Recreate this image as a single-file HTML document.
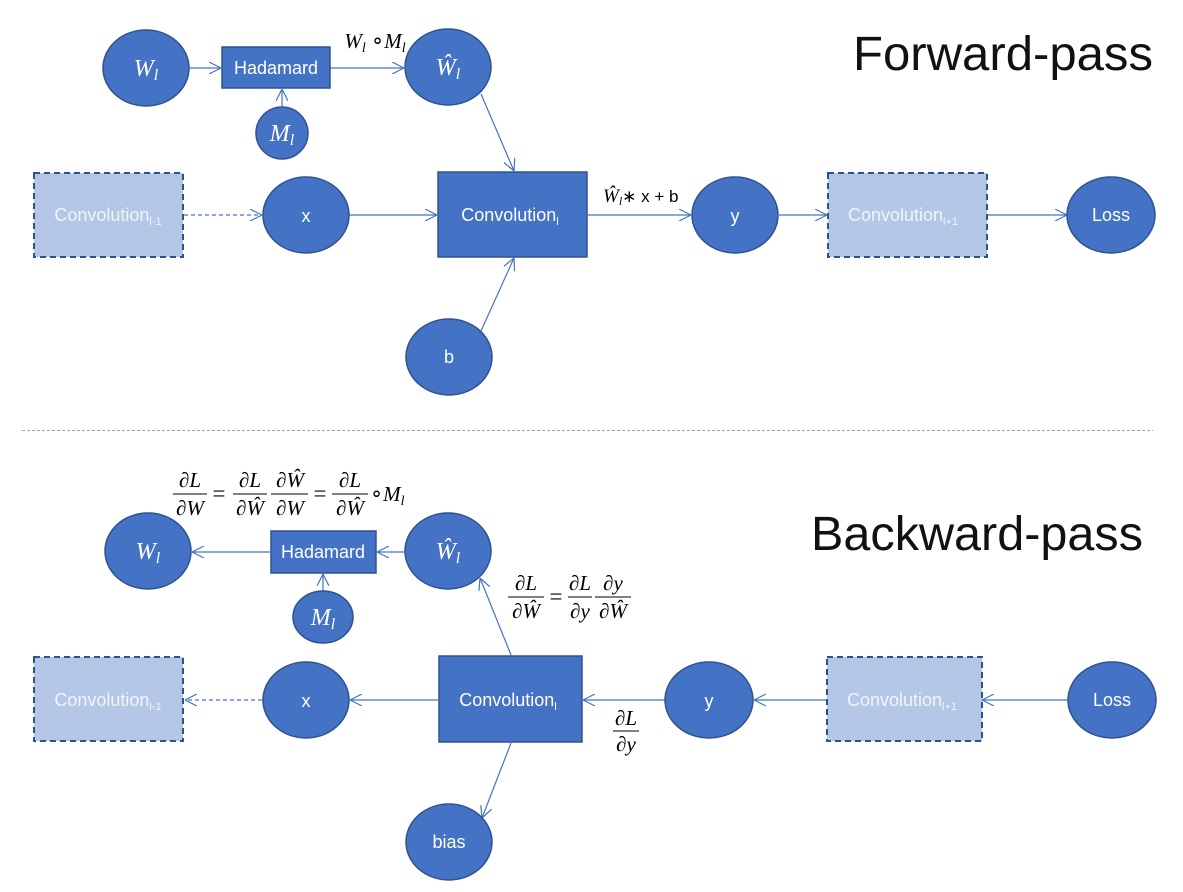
<!DOCTYPE html>
<html><head><meta charset="utf-8"><style>
html,body{margin:0;padding:0;background:#fff;}
svg{display:block;}
.n{fill:#4472c4;stroke:#2f528f;stroke-width:1.5;}
.d{fill:#b4c7e7;stroke:#2f528f;stroke-width:2;stroke-dasharray:6 4;}
.l{stroke:#4472c4;stroke-width:1.2;fill:none;marker-end:url(#a);}
.ld{stroke:#4472c4;stroke-width:1.2;fill:none;stroke-dasharray:4 3;marker-end:url(#a);}
.t{fill:#fff;font-family:"Liberation Sans",sans-serif;font-size:18px;text-anchor:middle;}
.tl{fill:#f0f4fb;font-family:"Liberation Sans",sans-serif;font-size:18px;text-anchor:middle;}
.m{fill:#fff;font-family:"Liberation Serif",serif;font-style:italic;font-size:24px;text-anchor:middle;}
.k{fill:#000;font-family:"Liberation Serif",serif;font-style:italic;font-size:21px;text-anchor:middle;}
.ke{fill:#000;font-family:"Liberation Serif",serif;font-size:23px;text-anchor:middle;}
.big{fill:#111;font-family:"Liberation Sans",sans-serif;font-size:48px;}
</style></head><body>
<svg width="1183" height="892" viewBox="0 0 1183 892" xmlns="http://www.w3.org/2000/svg">
<defs><marker id="a" viewBox="0 0 12 12" refX="12" refY="6" markerWidth="12" markerHeight="12" markerUnits="userSpaceOnUse" orient="auto"><path d="M0,0 L12,6 L0,12" fill="none" stroke="#4472c4" stroke-width="1.2"/></marker></defs>

<!-- Forward -->
<text class="big" x="853" y="70" textLength="300" lengthAdjust="spacingAndGlyphs">Forward-pass</text>
<line class="l" x1="190" y1="68" x2="221" y2="68"/>
<line class="l" x1="330" y1="68" x2="404" y2="68"/>
<line class="l" x1="282" y1="107" x2="282" y2="89"/>
<line class="l" x1="481" y1="94" x2="514" y2="171"/>
<line class="ld" x1="184" y1="215" x2="262" y2="215"/>
<line class="l" x1="349" y1="215" x2="437" y2="215"/>
<line class="l" x1="588" y1="215" x2="691" y2="215"/>
<line class="l" x1="779" y1="215" x2="827" y2="215"/>
<line class="l" x1="988" y1="215" x2="1067" y2="215"/>
<line class="l" x1="481" y1="331" x2="514" y2="258"/>

<ellipse class="n" cx="146" cy="68" rx="43" ry="38"/><text class="m" x="146" y="76">W<tspan font-size="16" dy="4">l</tspan></text>
<rect class="n" x="222" y="47" width="108" height="41"/><text class="t" x="276" y="74" font-size="16">Hadamard</text>
<ellipse class="n" cx="282" cy="133" rx="26" ry="26"/><text class="m" x="282" y="141">M<tspan font-size="16" dy="4">l</tspan></text>
<ellipse class="n" cx="448" cy="67" rx="43" ry="38"/><text class="m" x="448" y="75">Ŵ<tspan font-size="16" dy="4">l</tspan></text>
<text class="k" x="375" y="48">W<tspan font-size="14" dy="4">l</tspan><tspan dy="-4" font-style="normal"> ∘</tspan>M<tspan font-size="14" dy="4">l</tspan></text>

<rect class="d" x="34" y="173" width="149" height="84"/><text class="tl" x="108" y="221">Convolution<tspan font-size="11" dy="4">l-1</tspan></text>
<ellipse class="n" cx="306" cy="215" rx="43" ry="38"/><text class="t" x="306" y="222">x</text>
<rect class="n" x="438" y="172" width="149" height="85"/><text class="t" x="510" y="221">Convolution<tspan font-size="11" dy="4">l</tspan></text>
<text x="603" y="202" font-family="Liberation Serif,serif" font-style="italic" font-size="19">Ŵ<tspan font-size="12" dy="3">l</tspan><tspan dy="-3" font-family="Liberation Sans,sans-serif" font-style="normal" font-size="17">∗ x + b</tspan></text>
<ellipse class="n" cx="735" cy="215" rx="43" ry="38"/><text class="t" x="735" y="222">y</text>
<rect class="d" x="828" y="173" width="159" height="84"/><text class="tl" x="903" y="221">Convolution<tspan font-size="11" dy="4">l+1</tspan></text>
<ellipse class="n" cx="1111" cy="215" rx="44" ry="38"/><text class="t" x="1111" y="221" font-size="16">Loss</text>
<ellipse class="n" cx="449" cy="357" rx="43" ry="38"/><text class="t" x="449" y="363">b</text>

<line x1="22" y1="430.5" x2="1153" y2="430.5" stroke="#a6a6a6" stroke-width="1" stroke-dasharray="3 2"/>

<!-- Backward -->
<text class="big" x="811" y="550" textLength="332" lengthAdjust="spacingAndGlyphs">Backward-pass</text>
<line class="l" x1="270" y1="552" x2="192" y2="552"/>
<line class="l" x1="405" y1="552" x2="377" y2="552"/>
<line class="l" x1="323" y1="591" x2="323" y2="574"/>
<line class="l" x1="511" y1="655" x2="480" y2="578"/>
<line class="ld" x1="262" y1="700" x2="185" y2="700"/>
<line class="l" x1="438" y1="700" x2="350" y2="700"/>
<line class="l" x1="665" y1="700" x2="583" y2="700"/>
<line class="l" x1="827" y1="700" x2="754" y2="700"/>
<line class="l" x1="1068" y1="700" x2="982" y2="700"/>
<line class="l" x1="511" y1="743" x2="482" y2="818"/>

<ellipse class="n" cx="148" cy="551" rx="43" ry="38"/><text class="m" x="148" y="559">W<tspan font-size="16" dy="4">l</tspan></text>
<rect class="n" x="271" y="531" width="105" height="42"/><text class="t" x="323" y="558" font-size="16">Hadamard</text>
<ellipse class="n" cx="323" cy="617" rx="30" ry="26"/><text class="m" x="323" y="625">M<tspan font-size="16" dy="4">l</tspan></text>
<ellipse class="n" cx="448" cy="551" rx="43" ry="38"/><text class="m" x="448" y="559">Ŵ<tspan font-size="16" dy="4">l</tspan></text>

<g>
<text class="k" x="190" y="487">∂L</text><line x1="173" y1="494" x2="207" y2="494" stroke="#000"/><text class="k" x="190" y="515">∂W</text>
<text class="ke" x="219" y="501">=</text>
<text class="k" x="250" y="487">∂L</text><line x1="233" y1="494" x2="267" y2="494" stroke="#000"/><text class="k" x="250" y="515">∂Ŵ</text>
<text class="k" x="290" y="487">∂Ŵ</text><line x1="271" y1="494" x2="308" y2="494" stroke="#000"/><text class="k" x="290" y="515">∂W</text>
<text class="ke" x="320" y="501">=</text>
<text class="k" x="350" y="487">∂L</text><line x1="332" y1="494" x2="368" y2="494" stroke="#000"/><text class="k" x="350" y="515">∂Ŵ</text>
<text x="370" y="501" font-family="Liberation Serif,serif" font-size="21">∘<tspan font-style="italic">M</tspan><tspan font-style="italic" font-size="14" dy="4">l</tspan></text>
</g>
<g>
<text class="k" x="526" y="590">∂L</text><line x1="508" y1="597" x2="544" y2="597" stroke="#000"/><text class="k" x="526" y="618">∂Ŵ</text>
<text class="ke" x="556" y="604">=</text>
<text class="k" x="580" y="590">∂L</text><line x1="568" y1="597" x2="592" y2="597" stroke="#000"/><text class="k" x="580" y="618">∂y</text>
<text class="k" x="613" y="590">∂y</text><line x1="595" y1="597" x2="631" y2="597" stroke="#000"/><text class="k" x="613" y="618">∂Ŵ</text>
</g>
<text class="k" x="626" y="725">∂L</text><line x1="613" y1="731" x2="639" y2="731" stroke="#000"/><text class="k" x="626" y="751">∂y</text>

<rect class="d" x="34" y="657" width="149" height="84"/><text class="tl" x="108" y="706">Convolution<tspan font-size="11" dy="4">l-1</tspan></text>
<ellipse class="n" cx="306" cy="700" rx="43" ry="38"/><text class="t" x="306" y="707">x</text>
<rect class="n" x="439" y="656" width="143" height="86"/><text class="t" x="508" y="706">Convolution<tspan font-size="11" dy="4">l</tspan></text>
<ellipse class="n" cx="709" cy="700" rx="44" ry="38"/><text class="t" x="709" y="707">y</text>
<rect class="d" x="827" y="657" width="155" height="84"/><text class="tl" x="902" y="706">Convolution<tspan font-size="11" dy="4">l+1</tspan></text>
<ellipse class="n" cx="1112" cy="700" rx="44" ry="38"/><text class="t" x="1112" y="706" font-size="16">Loss</text>
<ellipse class="n" cx="449" cy="842" rx="43" ry="38"/><text class="t" x="449" y="848">bias</text>
</svg>
</body></html>
